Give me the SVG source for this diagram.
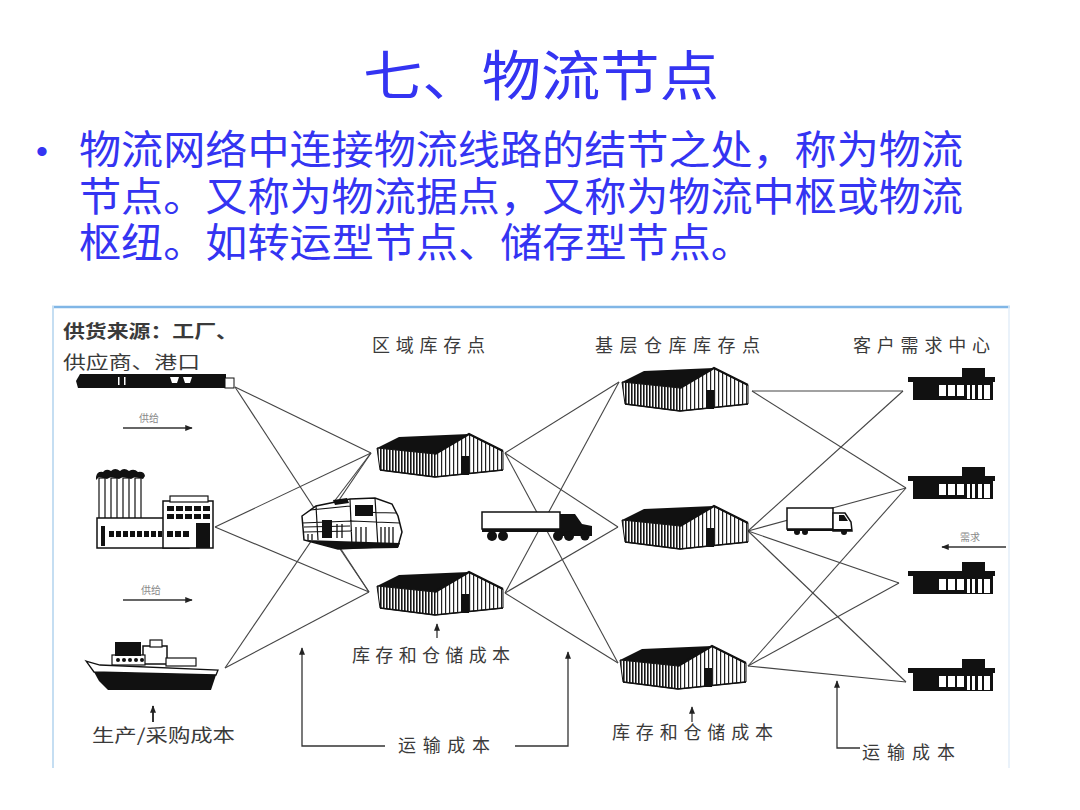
<svg xmlns="http://www.w3.org/2000/svg" xmlns:xlink="http://www.w3.org/1999/xlink" width="1080" height="810" viewBox="0 0 1080 810">
<style>
.cjk{font-family:"Noto Sans CJK SC","Noto Sans",sans-serif}
.blue{fill:#3434f2}
.lbl{font-family:"Noto Sans CJK SC","Noto Sans",sans-serif;fill:#3a3a3a;font-size:18px}
.small{font-family:"Noto Sans CJK SC","Noto Sans",sans-serif;fill:#888;font-size:10px}
.cn line{stroke:#454545;stroke-width:1.1}
.ann line,.ann polyline{stroke:#333;stroke-width:1.3;fill:none}
.ink{fill:#111}
.ol{fill:#fff;stroke:#111;stroke-width:1.5}
</style>
<defs>
<pattern id="stD" width="3" height="10" patternUnits="userSpaceOnUse"><rect width="3" height="10" fill="#fff"/><rect width="1.6" height="10" fill="#151515"/></pattern>
<pattern id="stL" width="4" height="10" patternUnits="userSpaceOnUse"><rect width="4" height="10" fill="#fff"/><rect width="1.2" height="10" fill="#222"/></pattern>
<marker id="ah" viewBox="0 0 10 8" refX="9" refY="4" markerWidth="8" markerHeight="6" orient="auto" markerUnits="userSpaceOnUse"><path d="M0,0 L10,4 L0,8 Z" fill="#222"/></marker>
<g id="wh">
<polygon points="0,14 58,20 58,43 3,36" fill="url(#stD)" stroke="#111" stroke-width="1"/>
<polygon points="58,20 92,0 126,17 126,36 58,43" fill="url(#stL)" stroke="#111" stroke-width="1"/>
<polygon points="0,14 22,3 92,0 58,20" fill="#111"/>
<polyline points="58,20 92,0 126,17" fill="none" stroke="#111" stroke-width="2.2"/>
<rect x="84" y="22" width="8" height="19" fill="#111"/>
<polyline points="3,36 58,43 126,36" fill="none" stroke="#111" stroke-width="1.6"/>
</g>
<g id="store">
<rect x="54" y="0" width="23" height="10" fill="#111"/>
<rect x="0" y="9" width="87" height="5" fill="#111"/>
<rect x="5" y="14" width="80" height="18" fill="#111"/>
<rect x="31" y="17" width="7" height="11" fill="#fff"/>
<rect x="40" y="17" width="7" height="11" fill="#fff"/>
<rect x="49" y="17" width="7" height="11" fill="#fff"/>
<rect x="59" y="17" width="3" height="14" fill="#fff"/>
<rect x="64" y="17" width="3" height="14" fill="#fff"/>
<rect x="70" y="17" width="4" height="14" fill="#fff"/>
<rect x="76" y="17" width="6" height="14" fill="#fff"/>
</g>
</defs>
<rect width="1080" height="810" fill="#fff"/>

<g id="title">
<text class="cjk blue" x="541" y="96" text-anchor="middle" font-size="54" textLength="356" lengthAdjust="spacingAndGlyphs">七、物流节点</text>
</g>
<g id="bullet-text">
<text x="36" y="163" font-family="Liberation Sans,sans-serif" font-size="34" class="blue">•</text>
<text class="cjk blue" font-size="40"><tspan x="79" y="164" textLength="884" lengthAdjust="spacingAndGlyphs">物流网络中连接物流线路的结节之处，称为物流</tspan><tspan x="79" y="211" textLength="884" lengthAdjust="spacingAndGlyphs">节点。又称为物流据点，又称为物流中枢或物流</tspan><tspan x="79" y="257" textLength="674" lengthAdjust="spacingAndGlyphs">枢纽。如转运型节点、储存型节点。</tspan></text>
</g>

<g id="frame">
<line x1="52" y1="307" x2="1010" y2="307" stroke="#80b6e6" stroke-width="2.5"/>
<line x1="53" y1="306" x2="53" y2="768" stroke="#c5def2" stroke-width="2"/>
<line x1="1009" y1="306" x2="1009" y2="768" stroke="#e3eef8" stroke-width="1.5"/>
</g>

<g id="connectors" class="cn">
<line x1="235" y1="387" x2="371" y2="453"/>
<line x1="235" y1="387" x2="369" y2="592"/>
<line x1="215" y1="527" x2="371" y2="453"/>
<line x1="215" y1="527" x2="369" y2="592"/>
<line x1="225" y1="668" x2="371" y2="453"/>
<line x1="225" y1="668" x2="369" y2="592"/>
<line x1="330" y1="507" x2="371" y2="453"/>
<line x1="336" y1="543" x2="369" y2="592"/>
<line x1="505" y1="453" x2="619" y2="382"/>
<line x1="505" y1="453" x2="618" y2="527"/>
<line x1="505" y1="453" x2="618" y2="663"/>
<line x1="505" y1="593" x2="619" y2="382"/>
<line x1="505" y1="593" x2="618" y2="527"/>
<line x1="505" y1="593" x2="618" y2="663"/>
<line x1="752" y1="391" x2="903" y2="391"/>
<line x1="752" y1="391" x2="906" y2="488"/>
<line x1="748" y1="531" x2="903" y2="391"/>
<line x1="748" y1="531" x2="906" y2="488"/>
<line x1="748" y1="531" x2="899" y2="583"/>
<line x1="748" y1="531" x2="906" y2="682"/>
<line x1="748" y1="666" x2="906" y2="488"/>
<line x1="748" y1="666" x2="899" y2="583"/>
<line x1="748" y1="666" x2="906" y2="682"/>
</g>

<g id="annotations" class="ann">
<line x1="123" y1="428" x2="192" y2="428" marker-end="url(#ah)"/>
<line x1="123" y1="600" x2="192" y2="600" marker-end="url(#ah)"/>
<line x1="1006" y1="547" x2="942" y2="547" marker-end="url(#ah)"/>
<line x1="153" y1="722" x2="153" y2="706" marker-end="url(#ah)" style="stroke-width:2"/>
<line x1="437" y1="638" x2="437" y2="624" marker-end="url(#ah)"/>
<line x1="692" y1="722" x2="692" y2="707" marker-end="url(#ah)"/>
<polyline points="385,746 302,746 302,648" marker-end="url(#ah)"/>
<polyline points="515,746 568,746 568,652" marker-end="url(#ah)"/>
<polyline points="860,748 837,748 837,681" marker-end="url(#ah)"/>
</g>

<g id="node-port">
<path class="ink" d="M80,374 L226,374 L226,388 L78,388 L76,381 Z"/>
<rect x="225" y="378" width="9" height="10" fill="#fff" stroke="#111" stroke-width="1"/>
<rect x="118" y="377" width="1.5" height="8" fill="#fff"/>
<rect x="124" y="377" width="1.5" height="8" fill="#fff"/>
<path d="M170,377 h9 l-2,6 h-5 z M183,377 h9 l-2,6 h-5 z" fill="#fff"/>
</g>

<g id="node-factory">
<path class="ink" d="M96,477 q1,-6 7,-5 q3,-4 8,-1 q4,-4 9,0 q4,-4 9,0 q5,-3 9,1 q6,-1 7,4 l-2,3 l-8,-2 l-4,2 l-8,-2 l-4,2 l-8,-2 l-4,2 l-8,-2 l-3,3 z"/>
<rect x="99" y="478" width="6" height="42" class="ol" style="stroke-width:1.2"/>
<rect x="111" y="478" width="6" height="42" class="ol" style="stroke-width:1.2"/>
<rect x="123" y="478" width="6" height="42" class="ol" style="stroke-width:1.2"/>
<rect x="135" y="478" width="6" height="42" class="ol" style="stroke-width:1.2"/>
<rect x="97" y="518" width="92" height="30" class="ol"/>
<rect x="101" y="526" width="4" height="20" class="ink"/>
<g class="ink">
<rect x="109" y="531" width="5" height="6"/><rect x="116" y="531" width="5" height="6"/><rect x="123" y="531" width="5" height="6"/><rect x="130" y="531" width="5" height="6"/><rect x="137" y="531" width="5" height="6"/><rect x="144" y="531" width="5" height="6"/><rect x="151" y="531" width="5" height="6"/><rect x="158" y="531" width="4" height="6"/>
</g>
<rect x="163" y="501" width="50" height="47" class="ol"/>
<rect x="170" y="496" width="38" height="6" class="ol" style="stroke-width:1.2"/>
<g class="ink">
<rect x="167" y="506" width="7" height="5"/><rect x="176" y="506" width="7" height="5"/><rect x="185" y="506" width="7" height="5"/><rect x="194" y="506" width="7" height="5"/><rect x="203" y="506" width="7" height="5"/>
<rect x="167" y="514" width="7" height="5"/><rect x="176" y="514" width="7" height="5"/><rect x="185" y="514" width="7" height="5"/><rect x="194" y="514" width="7" height="5"/><rect x="203" y="514" width="7" height="5"/>
<rect x="167" y="531" width="6" height="6"/><rect x="175" y="531" width="6" height="6"/><rect x="183" y="531" width="6" height="6"/>
</g>
<rect x="196" y="523" width="14" height="25" class="ink"/>
</g>

<g id="node-ship">
<rect x="143" y="646" width="24" height="18" class="ol"/>
<rect x="150" y="640" width="12" height="7" class="ol" style="stroke-width:1.2"/>
<rect x="166" y="658" width="30" height="8" class="ol" style="stroke-width:1.2"/>
<rect x="112" y="655" width="33" height="10" class="ol" style="stroke-width:1.2"/>
<rect x="115" y="642" width="26" height="14" class="ink"/>
<g class="ink"><circle cx="118" cy="660" r="2"/><circle cx="124" cy="660" r="2"/><circle cx="130" cy="660" r="2"/><circle cx="136" cy="660" r="2"/><circle cx="142" cy="660" r="2"/></g>
<polygon points="86,661 100,665 218,670 216,675 94,672" class="ol" style="stroke-width:1.3"/>
<polygon points="94,672 216,675 211,690 108,690 99,681" class="ink"/>
</g>

<g id="node-train">
<path class="ol" d="M302,516 L316,506 L350,499 L375,498 L392,504 L398,516 L402,532 L398,546 L338,549 L304,540 Z"/>
<path d="M350,499 L352,547 M375,498 L378,547 M302,523 L352,521 L400,523 M304,532 L352,531 M310,510 L350,506 M316,506 L318,540 M304,527 L350,526 M356,512 L396,513" fill="none" stroke="#111" stroke-width="1.2"/>
<rect x="322" y="520" width="10" height="18" class="ink"/>
<path class="ink" d="M355,505 h18 v11 h-18z"/>
<path d="M381,527 v16 M385,527 v16 M389,527 v16 M393,527 v16 M356,527 v15 M361,527 v15 M366,527 v15 M308,534 v6 M312,534 v6 M337,524 v14 M342,524 v14" stroke="#111" stroke-width="1.3"/>
<path class="ink" d="M305,540 L400,543 L398,548 L338,549 Z"/>
<path class="ink" d="M333,500 l14,-2 l2,5 l-14,2 z"/>
</g>

<g id="node-truck-big">
<rect x="482" y="512" width="78" height="17" class="ol"/>
<rect x="482" y="529" width="108" height="3" class="ink"/>
<path class="ink" d="M560,514 L575,514 L582,524 L592,526 L592,536 L560,536 Z"/>
<g class="ink"><circle cx="492" cy="536" r="5"/><circle cx="503" cy="536" r="5"/><circle cx="558" cy="536" r="5"/><circle cx="569" cy="536" r="5"/><circle cx="585" cy="536" r="4.5"/></g>
</g>

<g id="node-truck-small">
<rect x="787" y="508" width="46" height="21" class="ol"/>
<path class="ol" d="M833,513 L845,513 L851,522 L852,531 L833,531 Z"/>
<path class="ink" d="M839,515 h5 l4,6 h-9 z"/>
<rect x="787" y="529" width="65" height="2" class="ink"/>
<g class="ink"><circle cx="797" cy="532" r="3"/><circle cx="805" cy="532" r="3"/><circle cx="844" cy="532" r="3"/></g>
</g>

<g id="node-wh-region-1"><use xlink:href="#wh" x="377" y="434"/></g>
<g id="node-wh-region-2"><use xlink:href="#wh" x="377" y="572"/></g>
<g id="node-wh-base-1"><use xlink:href="#wh" x="622" y="368"/></g>
<g id="node-wh-base-2"><use xlink:href="#wh" x="622" y="506"/></g>
<g id="node-wh-base-3"><use xlink:href="#wh" x="620" y="646"/></g>

<g id="node-store-1"><use xlink:href="#store" x="908" y="368"/></g>
<g id="node-store-2"><use xlink:href="#store" x="908" y="467"/></g>
<g id="node-store-3"><use xlink:href="#store" x="908" y="562"/></g>
<g id="node-store-4"><use xlink:href="#store" x="908" y="659"/></g>

<g id="labels">
<text class="lbl" x="63" y="338" font-weight="bold" textLength="175" lengthAdjust="spacingAndGlyphs">供货来源：工厂、</text>
<text class="lbl" x="63" y="369" textLength="137" lengthAdjust="spacingAndGlyphs">供应商、港口</text>
<text class="lbl" x="372" y="352" textLength="113" lengthAdjust="spacing">区域库存点</text>
<text class="lbl" x="595" y="352" textLength="165" lengthAdjust="spacing">基层仓库库存点</text>
<text class="lbl" x="853" y="352" textLength="137" lengthAdjust="spacing">客户需求中心</text>
<text class="small" x="139" y="422">供给</text>
<text class="small" x="141" y="594">供给</text>
<text class="small" x="960" y="541">需求</text>
<text class="lbl" x="352" y="662" textLength="158" lengthAdjust="spacing">库存和仓储成本</text>
<text class="lbl" x="92" y="742" textLength="143" lengthAdjust="spacingAndGlyphs">生产/采购成本</text>
<text class="lbl" x="398" y="752" textLength="92" lengthAdjust="spacing">运输成本</text>
<text class="lbl" x="612" y="739" textLength="161" lengthAdjust="spacing">库存和仓储成本</text>
<text class="lbl" x="862" y="759" textLength="93" lengthAdjust="spacing">运输成本</text>
</g>
</svg>
